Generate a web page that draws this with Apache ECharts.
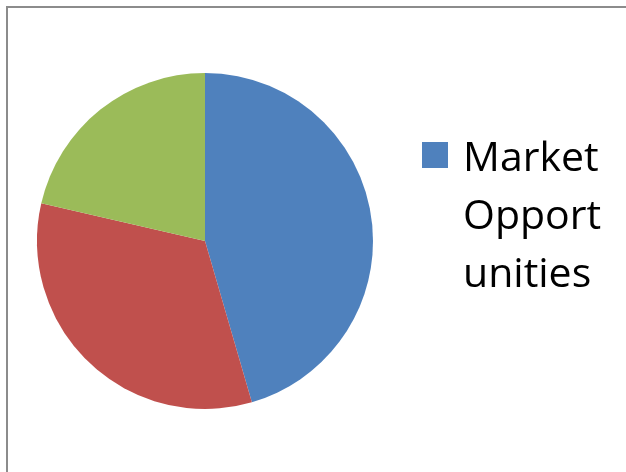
<!DOCTYPE html>
<html>
<head>
<meta charset="utf-8">
<script src="https://cdn.jsdelivr.net/npm/echarts@6/dist/echarts.min.js"></script>
<style>
  html, body { margin: 0; padding: 0; background: #fff; }
  #chart { position: absolute; left: 0; top: 0; width: 626px; height: 472px; }
  #frame { position: absolute; left: 6px; top: 6px; width: 700px; height: 600px;
           border: 2px solid #8c8c8c; pointer-events: none; box-sizing: border-box; }
</style>
</head>
<body>
<div id="chart"></div>
<div id="frame"></div>
<script>
const categories = ['Market Opportunities', 'Category 2', 'Category 3'];
const values = [45.5, 33.1, 21.4];
const colors = ['#4F81BD', '#C0504D', '#9BBB59'];
const legendNames = ['Market Opportunities'];
const legendLines = ['Market', 'Opport', 'unities'];

const chart = echarts.init(document.getElementById('chart'), null, { renderer: 'canvas' });
chart.setOption({
  animation: false,
  color: colors,
  legend: {
    data: legendNames,
    orient: 'vertical',
    left: 422,
    top: 6,
    padding: 0,
    icon: 'rect',
    itemWidth: 26,
    itemHeight: 26,
    itemGap: 0,
    itemStyle: { borderWidth: 0 },
    selectedMode: false,
    formatter: function () {
      return ['{e| }', '{a| }'].concat(legendLines.map(l => '{a|' + l + '}')).join('\n');
    },
    textStyle: {
      fontFamily: 'Open Sans',
      fontSize: 41,
      lineHeight: 58,
      color: '#000',
      rich: {
        a: {
          fontFamily: 'Open Sans',
          fontSize: 41,
          lineHeight: 58,
          color: '#000',
          padding: [0, 0, 0, 10]
        },
        e: {
          fontFamily: 'Open Sans',
          fontSize: 41,
          lineHeight: 66,
          color: '#000'
        }
      }
    }
  },
  series: [{
    type: 'pie',
    center: [205, 241],
    radius: 168,
    startAngle: 90,
    clockwise: true,
    label: { show: false },
    labelLine: { show: false },
    emphasis: { disabled: true },
    itemStyle: { borderWidth: 0 },
    data: categories.map((c, i) => ({ name: c, value: values[i] }))
  }]
});
</script>
</body>
</html>
